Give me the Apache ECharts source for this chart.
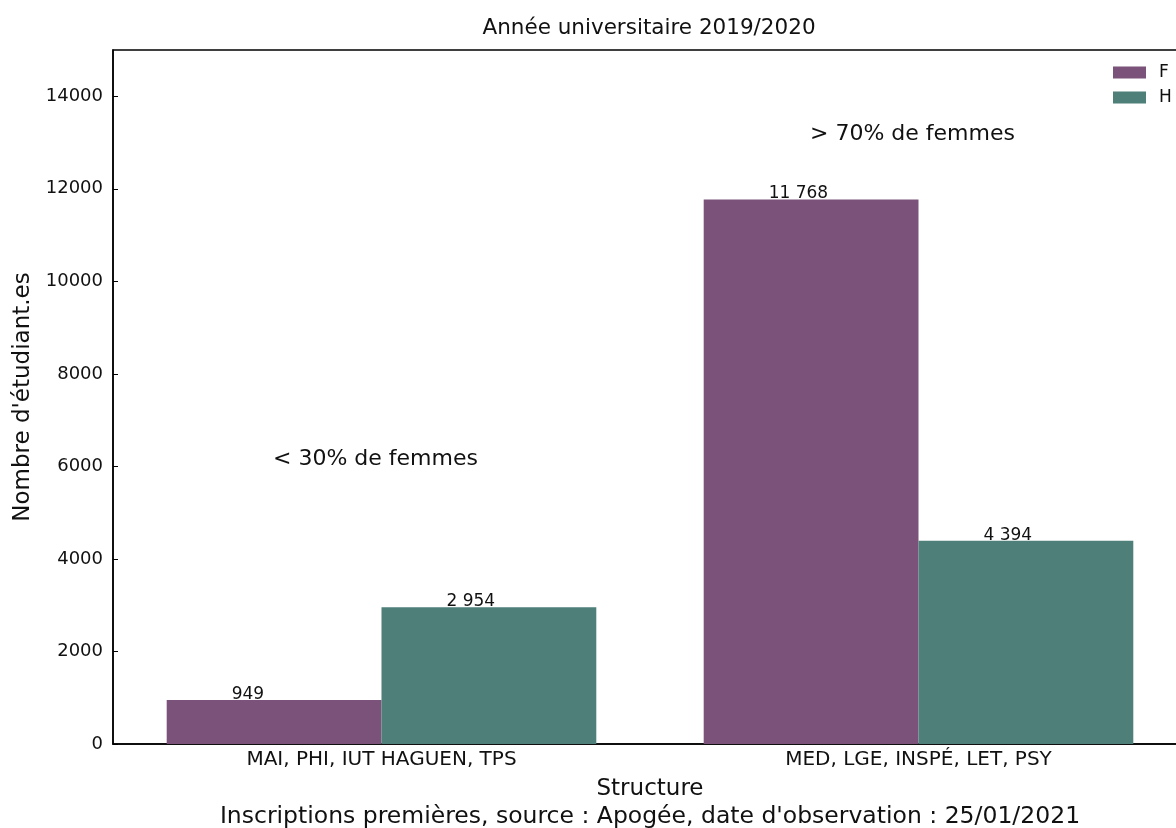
<!DOCTYPE html>
<html>
<head>
<meta charset="utf-8">
<script src="https://cdn.jsdelivr.net/npm/echarts@6/dist/echarts.min.js"></script>
<style>html,body{margin:0;padding:0;background:#fff;overflow:hidden;}#c{width:1200px;height:828px;}</style>
</head>
<body>
<div id="c"></div>
<script>
const categories = ['MAI, PHI, IUT HAGUEN, TPS', 'MED, LGE, INSPÉ, LET, PSY'];
const valuesF = [949, 11768];
const valuesH = [2954, 4394];
const yTicks = [0, 2000, 4000, 6000, 8000, 10000, 12000, 14000];
const annotationCats = [0, 1];
const annotationY = [6150, 13180];
const annotationText = ['< 30% de femmes', '> 70% de femmes'];

const FONT = 'DejaVu Sans';
const fmt = v => String(v).replace(/\B(?=(\d{3})+(?!\d))/g, ' ');

const chart = echarts.init(document.getElementById('c'));
const valueLabel = {
  show: true, position: [65, 3], align: 'left', verticalAlign: 'bottom',
  fontFamily: FONT, fontSize: 17, color: '#111',
  formatter: p => fmt(p.value)
};
chart.setOption({
  animation: false,
  textStyle: { fontFamily: FONT },
  title: [
    { text: 'Année universitaire 2019/2020', left: 644, textAlign: 'center', top: 12,
      textStyle: { fontFamily: FONT, fontSize: 21.5, fontWeight: 'normal', color: '#111' } },
    { text: "Inscriptions premières, source : Apogée, date d'observation : 25/01/2021",
      left: 645, textAlign: 'center', top: 800,
      textStyle: { fontFamily: FONT, fontSize: 23.5, fontWeight: 'normal', color: '#111' } }
  ],
  legend: {
    orient: 'vertical', left: 1108, top: 59, itemWidth: 33, itemHeight: 12, itemGap: 8,
    icon: 'rect',
    textStyle: { fontFamily: FONT, fontSize: 17, color: '#111', padding: [0, 0, 0, 8] },
    data: ['F', 'H']
  },
  grid: { left: 113, top: 50, right: 13, bottom: 84, show: true,
    borderColor: '#000', borderWidth: 1.5, backgroundColor: 'transparent' },
  xAxis: {
    type: 'category', data: categories,
    name: 'Structure', nameLocation: 'middle', nameGap: 34,
    nameTextStyle: { fontFamily: FONT, fontSize: 23, color: '#111' },
    axisLine: { lineStyle: { color: '#000', width: 1.5 } },
    axisTick: { inside: true, alignWithLabel: true, length: 5, lineStyle: { color: '#000' } },
    axisLabel: { fontFamily: FONT, fontSize: 20, color: '#111', margin: 6 }
  },
  yAxis: {
    type: 'value', min: 0, max: 15000, interval: 2000,
    name: "Nombre d'étudiant.es", nameLocation: 'middle', nameGap: 78,
    nameTextStyle: { fontFamily: FONT, fontSize: 23, color: '#111' },
    axisLine: { show: true, lineStyle: { color: '#000', width: 1.5 } },
    axisTick: { show: true, inside: true, length: 5, lineStyle: { color: '#000' } },
    axisLabel: { fontFamily: FONT, fontSize: 18, color: '#111', margin: 10, showMaxLabel: false,
      formatter: v => (yTicks.indexOf(v) >= 0 ? String(v) : '') },
    splitLine: { show: false }
  },
  series: [
    { name: 'F', type: 'bar', data: valuesF, barGap: '0%', barCategoryGap: '20%',
      itemStyle: { color: '#7b5279' }, label: valueLabel },
    { name: 'H', type: 'bar', data: valuesH,
      itemStyle: { color: '#4e7f78' }, label: valueLabel },
    { name: 'annot', type: 'scatter', symbolSize: 0, silent: true,
      itemStyle: { opacity: 1 },
      data: annotationCats.map((c, i) => [c, annotationY[i], annotationText[i]]),
      label: { show: true, position: 'inside', offset: [-6, 0], fontFamily: FONT, fontSize: 22,
        color: '#111', opacity: 1, formatter: p => p.value[2] } }
  ]
});
</script>
</body>
</html>
